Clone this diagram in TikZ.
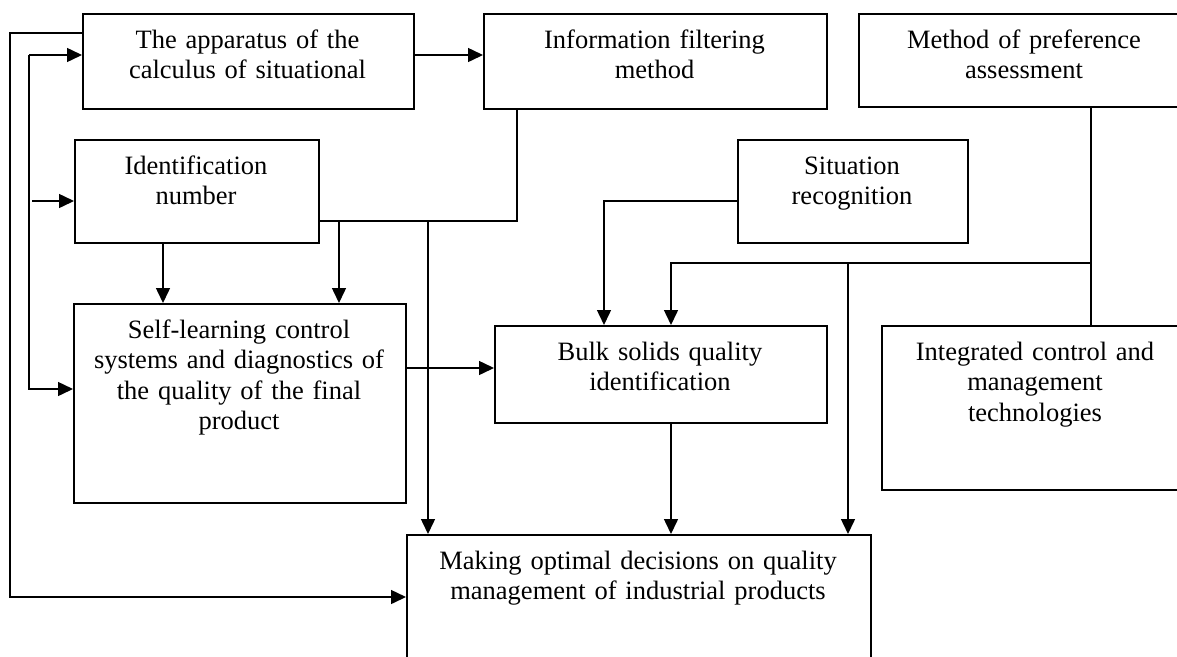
\documentclass[tikz,border=0pt]{standalone}
\usepackage{fontspec}
\setmainfont{Liberation Serif}
\usetikzlibrary{arrows.meta}
\begin{document}
\begin{tikzpicture}[x=1pt,y=-1pt,
 box/.style={draw, line width=1.5pt, inner sep=0pt, anchor=north west},
 txt/.style={font=\fontsize{26.5}{30.5}\selectfont, align=center, anchor=base, inner sep=0pt},
 conn/.style={line width=1.5pt},
 arr/.style={line width=1.5pt, -{Triangle[length=15pt,width=14pt]}}]
\useasboundingbox (0,0) rectangle (1177,656);
\clip (0,0) rectangle (1177,656);
% boxes
\node[box, minimum width=331pt, minimum height=95pt] (A) at (82,13) {};
\node[box, minimum width=343pt, minimum height=95pt] (B) at (483,13) {};
\node[box, minimum width=332pt, minimum height=93pt] (C) at (858,13) {};
\node[box, minimum width=244pt, minimum height=103pt] (D) at (74,139) {};
\node[box, minimum width=230pt, minimum height=103pt] (S) at (737,139) {};
\node[box, minimum width=332pt, minimum height=199pt] (E) at (73,303) {};
\node[box, minimum width=332pt, minimum height=97pt] (F) at (494,325) {};
\node[box, minimum width=309pt, minimum height=164pt] (G) at (881,325) {};
\node[box, minimum width=464pt, minimum height=170pt] (M) at (406,534) {};
% texts
\node[txt, text width=320pt] (tA) at (247.5,48) {The apparatus of the\\calculus of situational};
\node[txt, text width=330pt] (tB) at (654.5,48) {Information filtering\\method};
\node[txt, text width=300pt] (tC) at (1024,48) {Method of preference\\assessment};
\node[txt, text width=236pt] (tD) at (196,174) {Identification\\number};
\node[txt, text width=220pt] (tS) at (852,174) {Situation\\recognition};
\node[txt, text width=322pt] (tE) at (239,338) {Self-learning control\\systems and diagnostics of\\the quality of the final\\product};
\node[txt, text width=322pt] (tF) at (660,360) {Bulk solids quality\\identification};
\node[txt, text width=300pt] (tG) at (1035,360) {Integrated control and\\management\\technologies};
\node[txt, text width=450pt] (tM) at (638,569) {Making optimal decisions on quality\\management of industrial products};
% helper coordinates
\coordinate (o1) at (10,33);
\coordinate (o2) at (10,597);
\coordinate (i1) at (29,55);
\coordinate (i2) at (29,389);
\coordinate (d0) at (32,201);
\coordinate (d1) at (163,242);
\coordinate (b1) at (517,221);
\coordinate (b2) at (339,221);
\coordinate (b3) at (428,221);
\coordinate (e1) at (405,368);
\coordinate (s1) at (604,201);
\coordinate (c1) at (1091,263);
\coordinate (c2) at (671,263);
\coordinate (c3) at (848,263);
% connectors
\draw[arr] (A.west |- o1) -- (o1) -- (o2) -- (M.west |- o2);
\draw[arr] (i1) -- (A.west |- i1);
\draw[arr] (i1) -- (i2) -- (E.west |- i2);
\draw[arr] (d0) -- (D.west |- d0);
\draw[arr] (A.east |- i1) -- (B.west |- i1);
\draw[conn] (B.south -| b1) -- (b1) -- (D.east |- b1);
\draw[arr] (b2) -- (E.north -| b2);
\draw[arr] (b3) -- (M.north -| b3);
\draw[arr] (D.south -| d1) -- (E.north -| d1);
\draw[arr] (E.east |- e1) -- (F.west |- e1);
\draw[arr] (S.west |- s1) -- (s1) -- (F.north -| s1);
\draw[conn] (C.south -| c1) -- (G.north -| c1);
\draw[arr] (c1) -- (c2) -- (F.north -| c2);
\draw[arr] (c3) -- (M.north -| c3);
\draw[arr] (F.south -| c2) -- (M.north -| c2);
\end{tikzpicture}
\end{document}
